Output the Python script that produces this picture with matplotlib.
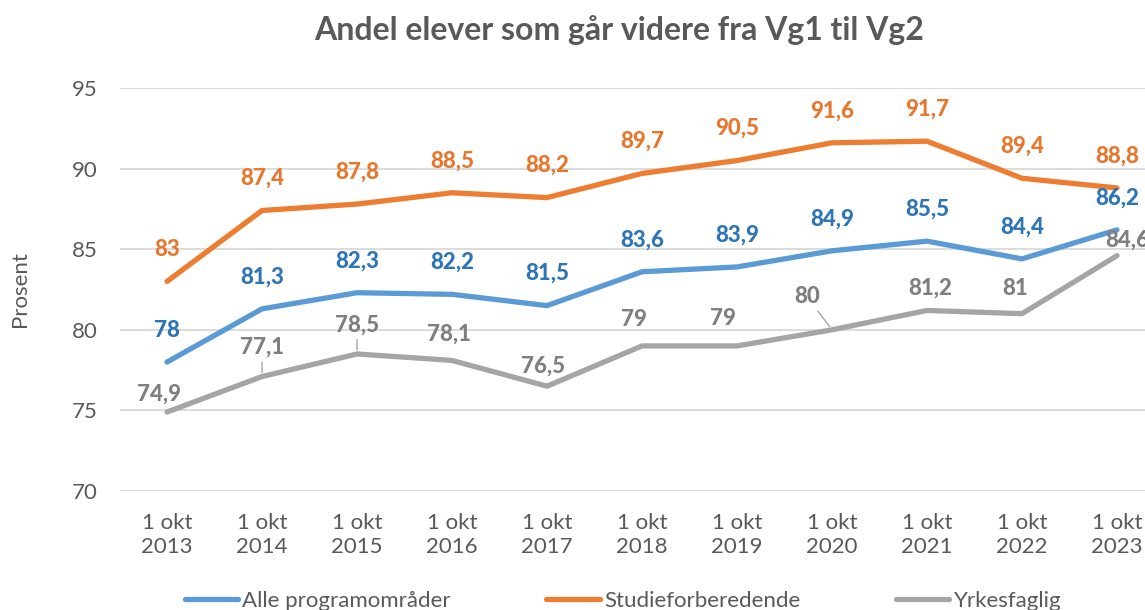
import matplotlib
matplotlib.use("Agg")
import matplotlib.pyplot as plt
import numpy as np

categories = ["1 okt\n2013", "1 okt\n2014", "1 okt\n2015", "1 okt\n2016", "1 okt\n2017",
              "1 okt\n2018", "1 okt\n2019", "1 okt\n2020", "1 okt\n2021", "1 okt\n2022", "1 okt\n2023"]
alle = [78, 81.3, 82.3, 82.2, 81.5, 83.6, 83.9, 84.9, 85.5, 84.4, 86.2]
studie = [83, 87.4, 87.8, 88.5, 88.2, 89.7, 90.5, 91.6, 91.7, 89.4, 88.8]
yrkes = [74.9, 77.1, 78.5, 78.1, 76.5, 79, 79, 80, 81.2, 81, 84.6]
yticks = [70, 75, 80, 85, 90, 95]
series_names = ["Alle programområder", "Studieforberedende", "Yrkesfaglig"]

plt.rcParams['font.family'] = ['Lato', 'DejaVu Sans']

W, H = 1145, 610
fig = plt.figure(figsize=(W / 100, H / 100), dpi=100)
ax = fig.add_axes([119.5 / W, (H - 491) / H, 1045 / W, 403 / H])

x = np.arange(len(categories))
line_cols = ["#5B9BD5", "#ED7D31", "#A5A5A5"]
text_cols = ["#2E75B6", "#E8772E", "#7F7F7F"]
lw = 3.8

for vals, c, name in zip([alle, studie, yrkes], line_cols, series_names):
    ax.plot(x, vals, color=c, lw=lw, solid_capstyle='round', solid_joinstyle='round',
            label=name, zorder=3)

ax.set_xlim(-0.5, len(categories) - 0.5)
ax.set_ylim(70, 95)
ax.set_yticks(yticks)
ax.set_yticklabels([str(v) for v in yticks])
ax.set_xticks(x)
ax.set_xticklabels(categories, linespacing=1.25)
ax.tick_params(axis='both', length=0, labelsize=16, labelcolor="#595959")
ax.tick_params(axis='y', pad=16)
ax.tick_params(axis='x', pad=16)
ax.grid(axis='y', color="#D9D9D9", lw=1.3, zorder=0)
for s in ax.spines.values():
    s.set_visible(False)

# data labels
lblsize = 16
lblweight = 'black'
for i, v in enumerate(studie):
    ax.annotate(f"{v:g}".replace('.', ','), (x[i], v), xytext=(0, 32), textcoords='offset pixels',
                ha='center', va='center', fontsize=lblsize, fontweight=lblweight, color=text_cols[1])
for i, v in enumerate(alle):
    ax.annotate(f"{v:g}".replace('.', ','), (x[i], v), xytext=(0, 32), textcoords='offset pixels',
                ha='center', va='center', fontsize=lblsize, fontweight=lblweight, color=text_cols[0])

gray_off = [(-8, 18), (0, 29), (0, 29), (-3, 26), (-4, 20), (-8, 26), (-14, 27), (-25, 33),
            (3, 22), (-7, 25), (10, 16)]
leader = [False, True, True, False, False, False, False, True, False, False, False]
for i, v in enumerate(yrkes):
    dx, dy = gray_off[i]
    kw = {}
    if leader[i]:
        kw['arrowprops'] = dict(arrowstyle='-', color="#A5A5A5", lw=1.0, shrinkA=1, shrinkB=3)
    ax.annotate(f"{v:g}".replace('.', ','), (x[i], v), xytext=(dx, dy), textcoords='offset pixels',
                ha='center', va='center', fontsize=lblsize, fontweight=lblweight, color=text_cols[2], **kw)

ax.set_ylabel("Prosent", fontsize=16, color="#595959")
ax.yaxis.set_label_coords((30 - 119.5) / 1045, 0.5)

fig.text(619 / W, (H - 30) / H, "Andel elever som går videre fra Vg1 til Vg2",
         ha='center', va='center', fontsize=23, fontweight='bold', color="#595959")

leg = fig.legend(loc='center', bbox_to_anchor=(623 / W, (H - 601) / H), ncol=3, frameon=False,
                 fontsize=16, handlelength=2.4, handletextpad=0.2, columnspacing=4.3,
                 labelcolor="#595959")
for h in leg.get_lines():
    h.set_linewidth(lw)

fig.savefig("out.png", dpi=100)
